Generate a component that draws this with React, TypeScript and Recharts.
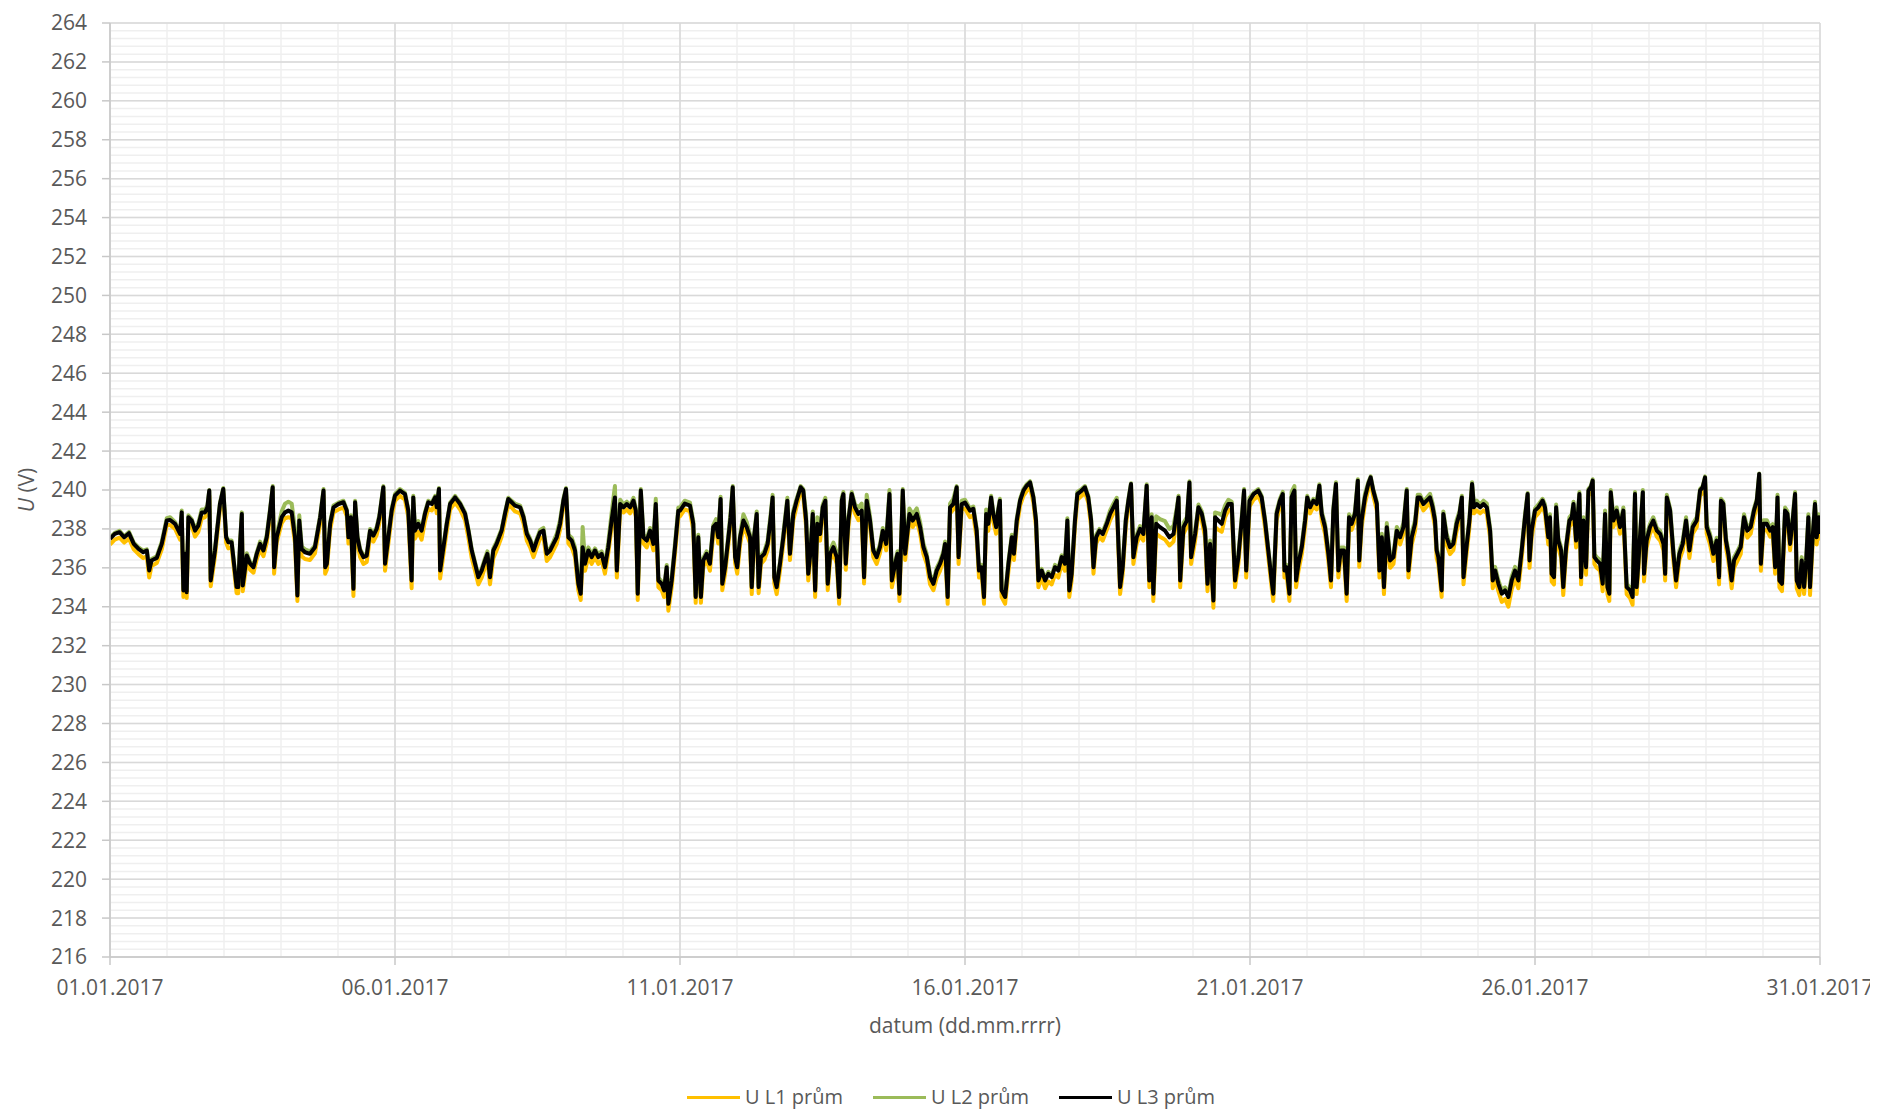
import React from "react";
import { LineChart, Line, XAxis, YAxis, CartesianGrid, Label } from "recharts";

// time of each reading, hours since 01.01.2017 00:00 (one line per day)
const hours: number[] = [
  0, 2, 4, 6, 8, 10, 12, 14, 15.5, 16.5, 17.5, 19.7, 21.8, 23.9,
  25.3, 27.4, 29.5, 30.2, 30.9, 31.6, 32.3, 33, 34.4, 35.8, 37.2, 38.6, 40, 41, 41.8, 42.4, 44.2, 46.3, 47.7,
  48.9, 49.8, 51.2, 53.3, 54, 54.8, 55.5, 55.9, 57.6, 59, 60.4, 61.8, 63.2, 64.6, 66, 67.4, 68.5, 69.1, 70.2,
  72.3, 73.7, 75.1, 76.5, 77.9, 78.9, 79.7, 80.7, 82.1, 84.2, 86.3, 88.5, 89.9, 90.6, 91.3, 92.7, 94.1,
  96.2, 98.3, 99.7, 100.4, 101.4, 102.5, 103.2, 104.2, 105.3, 106.7, 108.1, 109.5, 110.9, 112.3, 113.4, 115.1, 115.8, 117.2, 118.6, 120,
  122.1, 124.2, 125.6, 127, 127.7, 128.4, 129.8, 131.2, 132.6, 134, 135.5, 136.9, 137.6, 138.5, 139, 140.4, 141.8, 143.2,
  145.3, 147.4, 149.5, 150.9, 152.3, 153.7, 155.1, 156.5, 157.9, 158.9, 160, 161.4, 162.8, 164.9, 166.3, 167.7,
  169.1, 170.5, 172.7, 174.1, 175.5, 176.9, 178.3, 179.7, 181.1, 182.5, 183.9, 185.3, 186.7, 188.1, 189.5, 190.9, 192,
  193, 194.4, 195.8, 197.2, 198.2, 199, 200, 201.4, 202.8, 204.2, 205.6, 207, 208.4, 209.8, 211.2, 212.6, 213.4, 214.8,
  216.2, 217.6, 219, 220.4, 221.4, 222.2, 223.5, 224.6, 226, 227.4, 228.8, 229.8, 230.9, 232.3, 233.3, 234.4, 235.1, 236.5, 237.9, 239.3,
  240, 242, 244.2, 245.6, 246.6, 247.7, 248.8, 249.8, 251.2, 252.6, 254, 255.2, 256.1, 257.1, 257.8, 259, 260.4, 261.3, 262.2, 263.2,
  264.1, 265.3, 266.7, 268.1, 269.5, 270.2, 271.2, 272.3, 273.1, 274.1, 275.5, 276.9, 278.2, 279, 279.7, 280.7, 282.1, 283.5, 285.2, 286.3, 287.7,
  289.1, 290.8, 291.9, 293.1, 294, 295, 295.9, 296.9, 297.8, 299, 300.1, 301.2, 302.2, 303.2, 304.6, 306, 307, 308.1, 308.8, 309.8, 310.9,
  312.3, 313.7, 315.1, 316.5, 317.5, 318.6, 320, 321.4, 322.8, 324.2, 325.4, 326.8, 328.2, 329.2, 330.6, 331.6, 332.4, 333.8, 334.8,
  336.6, 338, 339.7, 341.1, 342.5, 343.9, 345.3, 346.7, 348.1, 349.5, 350.9, 351.6, 352.7, 353.7, 355.1, 356.5, 357.3, 358.6, 360,
  362.1, 363.5, 364.9, 365.9, 367, 368, 368.9, 369.8, 371, 371.9, 373.1, 374, 374.7, 375.4, 376.9, 378.3, 379.7, 380.6, 381.8, 383.2,
  384.6, 386, 387.4, 388.8, 389.9, 390.9, 392.3, 393.7, 395.1, 396.5, 397.9, 399.3, 400.7, 402.1, 403.1, 403.9, 404.9, 406.3, 407.3,
  409.1, 410.5, 411.9, 413.1, 414.1, 415.2, 416.6, 418, 419.7, 421.1, 422.5, 423.9, 425.3, 426.4, 427.7, 428.8, 429.9, 430.9,
  432.3, 433.7, 435.1, 436.5, 437.6, 438.6, 439.3, 440.5, 442.1, 444.2, 446.1, 447.8, 449.2, 449.9, 450.6, 452, 453.4, 454.5, 455.2,
  456.9, 458.3, 459.7, 461.1, 462.1, 463.2, 464.6, 465.3, 466.7, 468.1, 469.5, 470.9, 472.3, 473.7, 475.1, 476.5, 477.5, 478.4, 479.8,
  481.5, 483.5, 484.9, 486.3, 487.7, 489.1, 489.8, 491.2, 492.6, 493.8, 494.5, 495.4, 496.6, 497.5, 498.7, 499.4, 500.4, 501.8, 503.2,
  504.1, 505.3, 506.7, 508.1, 509.2, 510.2, 511.6, 513, 514.1, 515.1, 516.2, 517.2, 518.2, 519.6, 520.7, 521.7, 522.8, 524.2, 525.4, 526, 527,
  528.4, 529.8, 530.8, 531.9, 533.4, 534.5, 535.5, 536.4, 537.6, 539, 540.4, 541.8, 543.2, 544.6, 546, 546.7, 548.1, 549.5, 550.6, 551.6,
  553, 554.4, 555.8, 556.9, 557.9, 558.6, 559.3, 560.7, 561.4, 562.8, 564.2, 565.6, 567, 568.2, 569.2, 569.9, 571, 572.4, 573.5, 574.3, 575.5,
  576.9, 578.3, 579.7, 581.1, 582.2, 583.2, 584.6, 586, 587.4, 588.8, 590.2, 591.6, 593, 594.4, 595.8, 596.9, 597.7, 598.6, 600,
  601.4, 603.2, 604.2, 605.6, 606.3, 607, 608, 608.9, 609.8, 611, 611.9, 613.1, 614.5, 615.5, 616.2, 617.3, 618.7, 619.4, 620.4, 621.5, 622.5, 623.5,
  624.3, 625, 626, 627.4, 628.5, 629.5, 630.5, 631.3, 631.9, 633, 634.4, 635.8, 637.2, 638.6, 640, 641.1, 642.1, 642.8, 643.5, 645.4, 645.9, 647,
  648.4, 649.8, 651.3, 652.7, 654.1, 654.8, 655.5, 656.9, 658.3, 659.4, 660.8, 662.2, 663.6, 665, 666.4, 668.1, 669.5, 670.6, 671.6,
  672.3, 673.7, 675.1, 676.5, 677.5, 678.3, 679.3, 680.4, 681.4, 682.8, 683.8, 685.2, 686.6, 688, 689.4, 690.8, 692.2, 693.4, 694.4, 695.1,
  696.2, 697.6, 699, 700.1, 701.1, 702.1, 702.9, 704, 705.3, 706.3, 707.4, 708.5, 709.5, 710.2, 711.3, 712.3, 713.3, 714.2, 715.1, 715.8, 716.9, 717.9, 718.6, 719.5, 720,
];

const uL1: number[] = [
  237.2, 237.45, 237.55, 237.3, 237.5, 236.95, 236.7, 236.5, 236.6, 235.5, 236.1, 236.25, 236.95, 238.2,
  238.2, 238.0, 237.45, 238.6, 234.5, 236.4, 234.45, 238.35, 238.15, 237.6, 237.85, 238.55, 238.6, 238.85, 239.7, 235.05, 236.6, 239.0, 239.8,
  237.3, 237.0, 237.05, 234.7, 234.7, 237.0, 238.5, 234.8, 236.3, 235.9, 235.75, 236.45, 236.95, 236.6, 237.3, 238.65, 239.9, 235.7, 237.3,
  238.3, 238.55, 238.6, 238.55, 237.25, 234.3, 238.1, 236.6, 236.45, 236.4, 236.75, 238.3, 239.7, 235.7, 235.9, 237.95, 238.85,
  239.0, 239.1, 238.65, 237.25, 238.3, 234.55, 239.1, 237.25, 236.55, 236.2, 236.3, 237.6, 237.35, 237.7, 238.3, 239.9, 235.85, 237.25, 238.65, 239.45,
  239.7, 239.5, 238.6, 234.95, 239.3, 237.5, 237.85, 237.45, 238.4, 239.05, 238.95, 239.3, 238.8, 239.8, 235.45, 236.7, 237.9, 239.0,
  239.35, 239.0, 238.45, 237.55, 236.5, 235.85, 235.15, 235.5, 236.05, 236.4, 235.15, 236.5, 236.9, 237.6, 238.45, 239.25,
  239.1, 238.9, 238.8, 238.3, 237.4, 237.05, 236.55, 237.05, 237.5, 237.6, 236.35, 236.55, 236.9, 237.25, 237.95, 239.2, 239.8,
  237.25, 237.05, 236.55, 234.85, 234.35, 236.7, 235.85, 236.55, 236.2, 236.55, 236.2, 236.4, 235.7, 236.75, 238.1, 239.35, 235.5, 239.0,
  238.85, 239.0, 238.8, 239.15, 238.65, 234.35, 239.7, 237.25, 237.05, 237.6, 236.9, 239.0, 235.0, 234.85, 234.5, 235.7, 233.8, 235.0, 236.75, 238.6,
  238.65, 239.0, 238.9, 237.95, 234.2, 237.25, 234.2, 236.05, 236.4, 235.85, 237.75, 237.95, 237.25, 239.25, 234.85, 235.7, 237.25, 238.3, 239.9, 236.25,
  235.7, 237.2, 238.1, 237.75, 237.25, 234.65, 237.25, 238.45, 234.7, 236.2, 236.4, 236.9, 238.3, 239.35, 235.2, 234.65, 235.85, 237.25, 239.15, 236.4, 238.45,
  239.15, 239.9, 239.7, 238.1, 235.35, 236.55, 238.45, 234.5, 237.95, 237.4, 238.8, 239.15, 234.85, 236.4, 236.75, 236.2, 234.15, 239.15, 239.5, 235.9, 238.1,
  239.5, 238.8, 238.45, 238.6, 235.2, 239.15, 238.1, 236.55, 236.2, 236.75, 237.6, 236.9, 239.5, 235.0, 235.85, 236.4, 234.3, 239.7, 236.4,
  238.45, 238.1, 238.45, 237.75, 236.7, 236.2, 235.15, 234.85, 235.5, 235.85, 236.4, 236.9, 234.15, 238.8, 239.0, 239.85, 236.2, 239.0, 239.05,
  238.6, 238.7, 237.55, 235.5, 235.7, 234.15, 238.45, 237.9, 239.3, 238.4, 237.75, 238.6, 239.15, 234.5, 234.15, 235.85, 237.2, 236.4, 238.1, 239.2,
  239.7, 239.95, 240.15, 239.35, 238.1, 235.0, 235.5, 234.95, 235.3, 235.15, 235.65, 235.5, 236.2, 235.85, 238.1, 234.5, 235.35, 238.1, 239.5,
  239.7, 239.9, 239.35, 238.1, 235.7, 237.25, 237.6, 237.4, 237.95, 238.45, 238.8, 239.2, 234.65, 235.7, 238.1, 239.15, 240.05, 236.2,
  237.25, 237.65, 237.4, 239.95, 235.0, 238.3, 234.3, 237.75, 237.6, 237.45, 237.15, 237.35, 238.6, 239.35, 235.0, 237.75, 238.1, 240.1, 236.2,
  237.4, 238.8, 238.45, 237.55, 234.8, 236.85, 233.95, 238.1, 237.95, 237.85, 238.6, 238.95, 239.0, 235.0, 236.2, 238.1, 239.7, 235.5, 239.15,
  239.5, 239.7, 239.3, 238.1, 236.55, 235.0, 234.3, 238.45, 239.15, 239.5, 235.5, 235.7, 234.3, 239.3, 239.7, 235.0, 235.85, 236.7, 238.1,
  239.35, 238.8, 239.15, 239.0, 239.95, 238.45, 237.75, 236.35, 235.0, 238.65, 240.05, 235.5, 236.55, 236.55, 234.3, 238.3, 237.95, 238.45, 240.2, 236.05, 238.1,
  239.3, 240.05, 240.4, 239.7, 238.95, 235.5, 237.2, 234.65, 237.7, 236.0, 236.2, 237.55, 237.2, 237.75, 239.7, 235.5, 237.2, 237.9, 239.3, 239.35,
  238.95, 239.15, 239.35, 238.8, 238.1, 236.5, 236.2, 234.5, 238.45, 237.2, 236.7, 236.9, 237.9, 238.45, 239.35, 235.15, 236.5, 238.1, 240.05, 238.8, 238.95,
  238.8, 238.95, 238.8, 237.55, 234.95, 235.45, 234.8, 234.25, 234.4, 234.0, 234.9, 235.45, 234.95, 236.5, 238.3, 239.5, 236.0, 237.55, 238.6,
  238.8, 239.15, 238.8, 237.2, 238.25, 235.3, 235.15, 238.8, 237.05, 236.5, 234.6, 236.7, 238.1, 238.3, 239.0, 237.05, 239.5, 235.15, 238.1, 235.65, 239.7, 239.85,
  240.2, 236.2, 236.0, 235.85, 234.8, 238.45, 234.65, 234.3, 239.6, 238.1, 238.6, 237.75, 238.6, 234.65, 234.45, 234.1, 239.5, 234.65, 235.85, 239.6, 235.3, 237.05,
  237.75, 238.1, 237.6, 237.4, 236.9, 235.35, 239.35, 238.6, 236.35, 235.0, 236.4, 236.9, 238.1, 236.5, 237.75, 238.1, 239.7, 239.85, 240.35,
  237.75, 237.2, 236.35, 237.05, 235.15, 239.15, 238.95, 237.05, 236.35, 234.95, 236.0, 236.35, 236.7, 238.3, 237.55, 237.75, 238.6, 239.15, 240.55, 235.85,
  237.9, 237.95, 237.6, 237.75, 235.7, 239.3, 235.0, 234.8, 238.6, 238.45, 236.9, 238.1, 239.5, 234.95, 234.6, 236.0, 234.65, 236.0, 238.3, 234.6, 237.2, 239.0, 237.2, 238.3, 237.4,
];

const uL2: number[] = [
  237.55, 237.8, 237.9, 237.62, 237.85, 237.3, 237.05, 236.88, 236.95, 235.95, 236.45, 236.6, 237.35, 238.55,
  238.6, 238.35, 237.82, 238.95, 234.95, 236.8, 234.9, 238.7, 238.5, 238.0, 238.3, 239.0, 239.0, 239.2, 240.0, 235.45, 237.0, 239.35, 240.1,
  237.65, 237.4, 237.4, 235.1, 235.1, 237.4, 238.85, 235.2, 236.75, 236.3, 236.12, 236.8, 237.35, 237.0, 237.7, 239.05, 240.2, 236.15, 237.7,
  238.9, 239.3, 239.4, 239.3, 238.0, 234.7, 238.7, 237.1, 236.95, 236.85, 237.15, 238.7, 240.05, 236.15, 236.3, 238.35, 239.2,
  239.35, 239.45, 239.0, 237.65, 238.7, 235.0, 239.45, 237.65, 236.97, 236.65, 236.72, 238.0, 237.75, 238.1, 238.7, 240.2, 236.3, 237.65, 239.05, 239.8,
  240.05, 239.85, 239.0, 235.45, 239.7, 238.05, 238.4, 238.0, 238.85, 239.45, 239.35, 239.7, 239.2, 240.1, 235.95, 237.15, 238.35, 239.35,
  239.7, 239.35, 238.85, 238.0, 236.97, 236.3, 235.6, 235.95, 236.5, 236.85, 235.6, 237.0, 237.35, 238.0, 238.85, 239.6,
  239.45, 239.3, 239.2, 238.7, 237.85, 237.5, 237.0, 237.5, 237.95, 238.05, 236.85, 237.0, 237.35, 237.75, 238.45, 239.55, 240.1,
  237.7, 237.55, 237.05, 235.3, 234.8, 238.1, 236.35, 237.05, 236.7, 237.0, 236.7, 236.85, 236.15, 237.3, 238.8, 240.2, 236.0, 239.5,
  239.25, 239.4, 239.2, 239.6, 239.05, 234.75, 240.05, 237.7, 237.5, 238.05, 237.35, 239.55, 235.5, 235.3, 234.95, 236.15, 234.25, 235.5, 237.25, 239.1,
  239.1, 239.45, 239.35, 238.4, 234.6, 237.7, 234.6, 236.5, 236.85, 236.35, 238.2, 238.5, 237.75, 239.65, 235.3, 236.15, 237.75, 238.85, 240.2, 236.7,
  236.15, 237.7, 238.75, 238.35, 237.7, 235.1, 237.7, 238.9, 235.1, 236.65, 236.85, 237.4, 238.8, 239.75, 235.65, 235.1, 236.3, 237.75, 239.6, 236.85, 238.95,
  239.55, 240.2, 240.05, 238.75, 235.8, 237.2, 238.9, 234.95, 238.6, 238.0, 239.25, 239.6, 235.3, 236.9, 237.3, 236.8, 234.6, 239.6, 239.9, 236.45, 238.6,
  239.9, 239.25, 239.1, 239.3, 235.65, 239.75, 238.65, 237.0, 236.7, 237.2, 238.05, 237.4, 240.0, 235.5, 236.35, 236.85, 234.8, 240.05, 236.9,
  239.05, 238.75, 239.05, 238.35, 237.25, 236.7, 235.65, 235.3, 236.0, 236.35, 236.85, 237.35, 234.6, 239.3, 239.55, 240.2, 236.7, 239.45, 239.5,
  239.05, 239.15, 238.05, 235.95, 236.15, 234.6, 239.0, 238.4, 239.7, 238.9, 238.2, 239.05, 239.55, 234.95, 234.6, 236.35, 237.7, 236.85, 238.55, 239.55,
  240.05, 240.3, 240.45, 239.7, 238.55, 235.45, 235.95, 235.45, 235.8, 235.6, 236.15, 235.95, 236.65, 236.3, 238.55, 234.95, 235.8, 238.55, 239.9,
  240.05, 240.2, 239.7, 238.55, 236.15, 237.7, 238.0, 237.85, 238.4, 238.95, 239.3, 239.6, 235.15, 236.15, 238.55, 239.55, 240.35, 236.7,
  237.7, 238.15, 237.9, 240.3, 235.5, 238.75, 234.75, 238.65, 238.5, 238.4, 238.0, 238.15, 239.1, 239.7, 235.45, 238.3, 238.6, 240.45, 236.7,
  237.9, 239.25, 238.9, 238.05, 235.3, 237.4, 234.45, 238.85, 238.8, 238.7, 239.2, 239.5, 239.4, 235.5, 236.7, 238.6, 240.05, 236.0, 239.6,
  239.85, 240.05, 239.7, 238.55, 237.0, 235.45, 234.8, 238.9, 239.55, 239.9, 236.0, 236.15, 234.8, 239.9, 240.2, 235.5, 236.35, 237.2, 238.6,
  239.7, 239.2, 239.55, 239.4, 240.3, 238.9, 238.25, 236.9, 235.5, 239.1, 240.4, 236.0, 237.05, 237.05, 234.8, 238.75, 238.4, 238.9, 240.55, 236.5, 238.6,
  239.8, 240.4, 240.7, 240.05, 239.4, 236.0, 237.75, 235.15, 238.3, 236.55, 236.7, 238.1, 237.75, 238.3, 240.05, 236.0, 237.8, 238.45, 239.75, 239.75,
  239.4, 239.6, 239.8, 239.3, 238.6, 237.0, 236.7, 235.0, 238.9, 237.75, 237.2, 237.4, 238.45, 238.9, 239.7, 235.65, 237.05, 238.6, 240.4, 239.25, 239.45,
  239.25, 239.45, 239.3, 238.05, 235.55, 236.05, 235.35, 234.85, 235.0, 234.65, 235.55, 236.05, 235.5, 237.05, 238.75, 239.85, 236.5, 238.1, 239.05,
  239.25, 239.55, 239.25, 237.75, 238.75, 235.85, 235.7, 239.25, 237.55, 237.05, 235.2, 237.2, 238.6, 238.75, 239.4, 237.55, 239.9, 235.7, 238.6, 236.2, 240.05, 240.2,
  240.55, 236.7, 236.55, 236.4, 235.35, 238.95, 235.15, 234.8, 240.0, 238.6, 239.1, 238.25, 239.1, 235.15, 235.0, 234.65, 239.9, 235.15, 236.35, 240.0, 235.85, 237.6,
  238.25, 238.6, 238.05, 237.9, 237.4, 235.85, 239.75, 239.05, 236.9, 235.5, 236.9, 237.4, 238.6, 237.05, 238.25, 238.6, 240.05, 240.2, 240.7,
  238.25, 237.75, 236.9, 237.55, 235.65, 239.55, 239.4, 237.55, 236.9, 235.5, 236.55, 236.85, 237.2, 238.75, 238.05, 238.25, 239.05, 239.55, 240.85, 236.35,
  238.45, 238.45, 238.05, 238.25, 236.2, 239.75, 235.5, 235.35, 239.1, 238.9, 237.4, 238.6, 239.9, 235.5, 235.15, 236.55, 235.15, 236.55, 238.75, 235.15, 237.7, 239.4, 237.7, 238.75, 237.9,
];

const uL3: number[] = [
  237.49, 237.74, 237.83, 237.57, 237.78, 237.23, 236.97, 236.8, 236.89, 235.86, 236.38, 236.51, 237.23, 238.43,
  238.46, 238.26, 237.74, 238.85, 234.84, 236.72, 234.75, 238.6, 238.43, 237.91, 238.17, 238.85, 238.85, 239.11, 239.97, 235.35, 236.89, 239.28, 240.05,
  237.57, 237.32, 237.32, 235.01, 235.01, 237.32, 238.77, 235.09, 236.63, 236.21, 236.03, 236.72, 237.23, 236.89, 237.57, 238.94, 240.14, 236.03, 237.57,
  238.6, 238.85, 238.94, 238.85, 237.57, 234.58, 238.43, 236.97, 236.8, 236.72, 237.06, 238.6, 239.97, 236.03, 236.2, 238.26, 239.11,
  239.28, 239.37, 238.94, 237.57, 238.6, 234.92, 239.37, 237.57, 236.89, 236.55, 236.63, 237.91, 237.66, 238.0, 238.6, 240.14, 236.21, 237.57, 238.94, 239.71,
  239.97, 239.79, 238.94, 235.35, 239.62, 237.91, 238.26, 237.91, 238.77, 239.37, 239.28, 239.62, 239.11, 240.05, 235.86, 237.06, 238.26, 239.28,
  239.62, 239.28, 238.77, 237.91, 236.89, 236.21, 235.52, 235.86, 236.38, 236.72, 235.52, 236.89, 237.23, 237.91, 238.77, 239.54,
  239.37, 239.2, 239.11, 238.6, 237.74, 237.4, 236.89, 237.4, 237.83, 237.91, 236.72, 236.89, 237.23, 237.57, 238.26, 239.45, 240.05,
  237.57, 237.4, 236.89, 235.18, 234.67, 237.06, 236.21, 236.89, 236.55, 236.89, 236.55, 236.72, 236.03, 237.06, 238.43, 239.62, 235.86, 239.28,
  239.11, 239.28, 239.11, 239.45, 238.94, 234.67, 239.97, 237.57, 237.4, 237.91, 237.23, 239.28, 235.35, 235.18, 234.84, 236.03, 234.15, 235.35, 237.06, 238.94,
  238.94, 239.3, 239.2, 238.26, 234.5, 237.57, 234.5, 236.38, 236.72, 236.21, 238.09, 238.26, 237.57, 239.54, 235.18, 236.03, 237.57, 238.6, 240.14, 236.55,
  236.03, 237.57, 238.43, 238.09, 237.57, 235.01, 237.57, 238.77, 235.01, 236.55, 236.72, 237.23, 238.6, 239.62, 235.52, 235.01, 236.21, 237.57, 239.45, 236.72, 238.77,
  239.45, 240.14, 239.97, 238.43, 235.69, 236.89, 238.77, 234.84, 238.26, 237.74, 239.11, 239.45, 235.18, 236.72, 237.06, 236.55, 234.5, 239.45, 239.79, 236.21, 238.43,
  239.79, 239.11, 238.77, 238.94, 235.52, 239.45, 238.43, 236.89, 236.55, 237.06, 237.91, 237.23, 239.79, 235.35, 236.21, 236.72, 234.67, 239.97, 236.72,
  238.77, 238.43, 238.77, 238.09, 237.06, 236.55, 235.52, 235.18, 235.86, 236.21, 236.72, 237.23, 234.5, 239.11, 239.28, 240.14, 236.55, 239.28, 239.35,
  238.94, 239.03, 237.91, 235.86, 236.03, 234.5, 238.77, 238.26, 239.62, 238.77, 238.09, 238.94, 239.45, 234.84, 234.5, 236.21, 237.57, 236.72, 238.43, 239.45,
  239.97, 240.22, 240.39, 239.62, 238.43, 235.35, 235.86, 235.35, 235.69, 235.52, 236.03, 235.86, 236.55, 236.21, 238.43, 234.84, 235.69, 238.43, 239.79,
  239.97, 240.14, 239.62, 238.43, 236.03, 237.57, 237.91, 237.74, 238.26, 238.77, 239.11, 239.45, 235.01, 236.03, 238.43, 239.45, 240.31, 236.55,
  237.57, 238.0, 237.74, 240.22, 235.35, 238.6, 234.67, 238.26, 238.09, 237.91, 237.57, 237.74, 238.94, 239.62, 235.35, 238.09, 238.43, 240.39, 236.55,
  237.74, 239.11, 238.77, 237.91, 235.18, 237.23, 234.32, 238.6, 238.43, 238.26, 238.94, 239.28, 239.28, 235.35, 236.55, 238.43, 239.97, 235.86, 239.45,
  239.79, 239.97, 239.62, 238.43, 236.89, 235.35, 234.67, 238.77, 239.45, 239.79, 235.86, 236.03, 234.67, 239.62, 239.97, 235.35, 236.21, 237.06, 238.43,
  239.62, 239.11, 239.45, 239.28, 240.22, 238.77, 238.09, 236.72, 235.35, 238.94, 240.31, 235.86, 236.89, 236.89, 234.67, 238.6, 238.26, 238.77, 240.48, 236.38, 238.43,
  239.62, 240.31, 240.65, 239.97, 239.28, 235.86, 237.57, 235.01, 238.09, 236.38, 236.55, 237.91, 237.57, 238.09, 239.97, 235.86, 237.57, 238.26, 239.62, 239.62,
  239.28, 239.45, 239.62, 239.11, 238.43, 236.89, 236.55, 234.84, 238.77, 237.57, 237.06, 237.23, 238.26, 238.77, 239.62, 235.52, 236.89, 238.43, 240.31, 239.11, 239.28,
  239.11, 239.28, 239.11, 237.91, 235.35, 235.86, 235.18, 234.67, 234.84, 234.5, 235.35, 235.86, 235.35, 236.89, 238.6, 239.79, 236.38, 237.91, 238.94,
  239.11, 239.45, 239.11, 237.57, 238.6, 235.69, 235.52, 239.11, 237.4, 236.89, 235.01, 237.06, 238.43, 238.6, 239.28, 237.4, 239.79, 235.52, 238.43, 236.03, 239.97, 240.14,
  240.48, 236.55, 236.38, 236.21, 235.18, 238.77, 235.01, 234.67, 239.88, 238.43, 238.94, 238.09, 238.94, 235.01, 234.84, 234.5, 239.79, 235.01, 236.21, 239.88, 235.69, 237.4,
  238.09, 238.43, 237.91, 237.74, 237.23, 235.69, 239.62, 238.94, 236.72, 235.35, 236.72, 237.23, 238.43, 236.89, 238.09, 238.43, 239.97, 240.14, 240.65,
  238.09, 237.57, 236.72, 237.4, 235.52, 239.45, 239.28, 237.4, 236.72, 235.35, 236.38, 236.72, 237.06, 238.6, 237.91, 238.09, 238.94, 239.45, 240.82, 236.21,
  238.26, 238.26, 237.91, 238.09, 236.03, 239.62, 235.35, 235.18, 238.94, 238.77, 237.23, 238.43, 239.79, 235.35, 235.01, 236.38, 235.01, 236.38, 238.6, 235.01, 237.57, 239.28, 237.57, 238.6, 237.74,
];

const dateLabels = ["01.01.2017", "06.01.2017", "11.01.2017", "16.01.2017", "21.01.2017", "26.01.2017", "31.01.2017"];
const seriesNames = ["U L1 prům", "U L2 prům", "U L3 prům"];
const seriesColors = ["#FFC000", "#9BBB59", "#000000"];

const data = hours.map((h, i) => ({ h, l1: uL1[i], l2: uL2[i], l3: uL3[i] }));

const xTicks = dateLabels.map((_, i) => i * 120);
const dayLines = Array.from({ length: 31 }, (_, i) => i * 24);
const yTicks = Array.from({ length: 25 }, (_, i) => 216 + i * 2);
const yMinor = Array.from({ length: 121 }, (_, i) => Math.round((216 + i * 0.4) * 10) / 10);

const FONT = "'Open Sans', 'Noto Sans', sans-serif";
const tickStyle = { fill: "#595959", fontSize: 21, fontFamily: FONT };

const XTitle = ({ viewBox }: any) => (
  <text x={viewBox.x + viewBox.width / 2} y={viewBox.y + 76} textAnchor="middle" fill="#595959" fontSize={21} fontFamily={FONT}>
    datum (dd.mm.rrrr)
  </text>
);

const YTitle = ({ viewBox }: any) => {
  const cx = viewBox.x - 24;
  const cy = viewBox.y + viewBox.height / 2;
  return (
    <text x={cx} y={cy} transform={`rotate(-90, ${cx}, ${cy})`} textAnchor="middle" dominantBaseline="central" fill="#595959" fontSize={21} fontFamily={FONT}>
      <tspan fontStyle="italic">U</tspan> (V)
    </text>
  );
};

export default function App() {
  const keys = ["l1", "l2", "l3"];
  return (
    <div style={{ position: "relative", width: 1870, height: 1103, fontFamily: FONT }}>
      <LineChart width={1870} height={1050} data={data} margin={{ top: 15, right: 58, bottom: 41, left: 42 }}>
        <CartesianGrid horizontalValues={yMinor} verticalValues={dayLines} stroke="#efefef" strokeWidth={1.5} />
        <CartesianGrid horizontalValues={yTicks} verticalValues={xTicks} stroke="#d9d9d9" strokeWidth={1.5} />
        <XAxis
          dataKey="h"
          type="number"
          domain={[0, 720]}
          ticks={xTicks}
          interval={0}
          tickFormatter={(v: number) => dateLabels[Math.round(v / 120)]}
          tick={tickStyle}
          tickSize={8}
          tickMargin={15}
          height={60}
          stroke="#c8c8c8"
          strokeWidth={1.5}
          allowDataOverflow
        >
          <Label content={<XTitle />} />
        </XAxis>
        <YAxis
          type="number"
          domain={[216, 264]}
          ticks={yTicks}
          interval={0}
          tick={tickStyle}
          tickSize={8}
          tickMargin={15}
          width={60}
          stroke="#c8c8c8"
          strokeWidth={1.5}
          allowDataOverflow
        >
          <Label content={<YTitle />} />
        </YAxis>
        {keys.map((k, i) => (
          <Line
            key={k}
            type="linear"
            dataKey={k}
            name={seriesNames[i]}
            stroke={seriesColors[i]}
            strokeWidth={4}
            strokeLinejoin="round"
            dot={false}
            activeDot={false}
            isAnimationActive={false}
          />
        ))}
      </LineChart>
      <div
        style={{
          position: "absolute",
          top: 1077,
          left: 8,
          width: 1870,
          display: "flex",
          justifyContent: "center",
          alignItems: "center",
          gap: 30,
          fontSize: 20,
          lineHeight: "24px",
          color: "#595959",
        }}
      >
        {seriesNames.map((n, i) => (
          <div key={n} style={{ display: "flex", alignItems: "center", gap: 5 }}>
            <span style={{ display: "inline-block", width: 53, height: 3, background: seriesColors[i] }} />
            <span>{n}</span>
          </div>
        ))}
      </div>
    </div>
  );
}
